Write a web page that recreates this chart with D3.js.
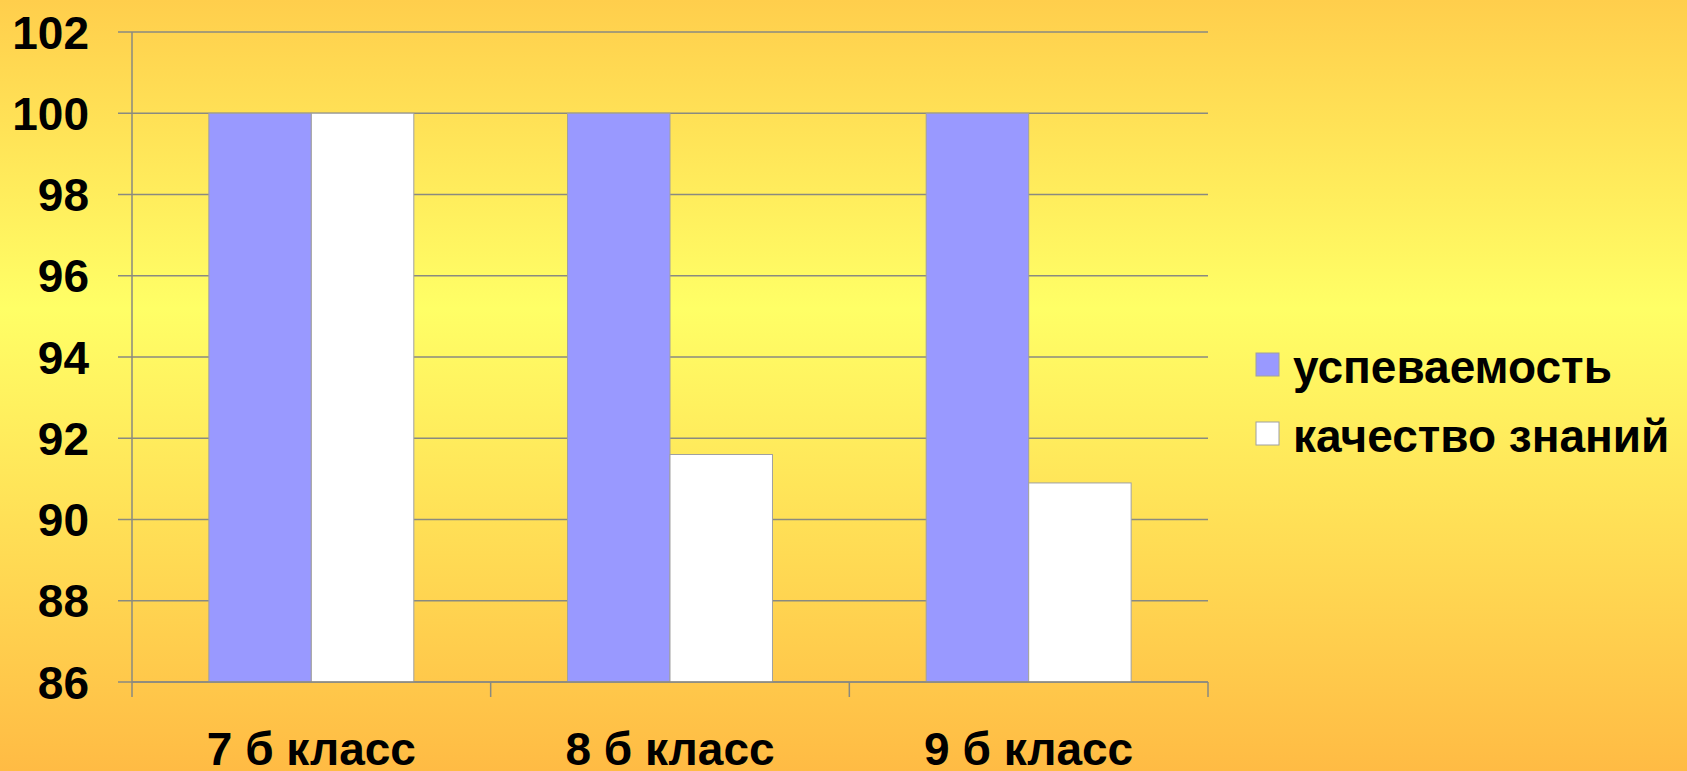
<!DOCTYPE html>
<html>
<head>
<meta charset="utf-8">
<script src="https://cdn.jsdelivr.net/npm/d3@7"></script>
<style>
  html, body { margin: 0; padding: 0; overflow: hidden; }
  svg { display: block; font-family: "Liberation Sans", Arial, sans-serif; }
</style>
</head>
<body>
<svg id="chart" width="1687" height="771"></svg>
<script>
// data
var classes = ["7 б класс", "8 б класс", "9 б класс"];
var seriesNames = ["успеваемость", "качество знаний"];
var uspevaemost = [100, 100, 100];
var kachestvo = [100, 91.6, 90.9];
var yTicks = [86, 88, 90, 92, 94, 96, 98, 100, 102];

var colors = ["#9999FF", "#FFFFFF"];
var W = 1687, H = 771;
var plotLeft = 132, plotRight = 1208, plotTop = 32, plotBottom = 682;

var svg = d3.select("#chart");

// background
var grad = svg.append("defs").append("linearGradient")
  .attr("id", "bg").attr("x1", 0).attr("x2", 0).attr("y1", 0).attr("y2", 1);
grad.append("stop").attr("offset", "0%").attr("stop-color", "#FFCE4C");
grad.append("stop").attr("offset", "40%").attr("stop-color", "#FFFF66");
grad.append("stop").attr("offset", "100%").attr("stop-color", "#FFBB44");
svg.append("rect").attr("width", W).attr("height", H).attr("fill", "url(#bg)");

var y = d3.scaleLinear().domain([86, 102]).range([plotBottom, plotTop]);
var x0 = d3.scaleBand().domain(classes).range([plotLeft, plotRight]).padding(0);
var x1 = d3.scaleBand().domain(seriesNames).range([0, x0.bandwidth()]).paddingInner(0).paddingOuter(0.75);

// gridlines
svg.append("g").selectAll("line").data(yTicks).enter().append("line")
  .attr("x1", plotLeft - 14).attr("x2", plotRight)
  .attr("y1", function(d){ return y(d); })
  .attr("y2", function(d){ return y(d); })
  .attr("stroke", "#8a8a80").attr("stroke-width", 1.5);

// y axis
svg.append("line").attr("x1", plotLeft).attr("x2", plotLeft).attr("y1", plotTop).attr("y2", plotBottom)
  .attr("stroke", "#8a8a80").attr("stroke-width", 1.5);

svg.append("g").selectAll("text").data(yTicks).enter().append("text")
  .attr("x", 89)
  .attr("y", function(d){ return y(d); })
  .attr("dy", "0.36em")
  .attr("text-anchor", "end")
  .attr("font-size", 46).attr("font-weight", "bold").attr("fill", "#000")
  .text(function(d){ return d; });

// bars
var rows = classes.map(function(c, i){
  return [{cls: c, s: seriesNames[0], v: uspevaemost[i]}, {cls: c, s: seriesNames[1], v: kachestvo[i]}];
});
svg.append("g").selectAll("g").data(rows).enter().append("g")
  .attr("transform", function(d){ return "translate(" + x0(d[0].cls) + ",0)"; })
  .selectAll("rect").data(function(d){ return d; }).enter().append("rect")
  .attr("x", function(d){ return x1(d.s); })
  .attr("width", x1.bandwidth())
  .attr("y", function(d){ return y(d.v); })
  .attr("height", function(d){ return plotBottom - y(d.v); })
  .attr("fill", function(d, i){ return colors[i]; })
  .attr("stroke", "#a0a0a0").attr("stroke-width", 1);

// x axis
svg.append("line").attr("x1", plotLeft).attr("x2", plotRight).attr("y1", plotBottom).attr("y2", plotBottom)
  .attr("stroke", "#8a8a80").attr("stroke-width", 1.5);
var xTicks = classes.map(function(c){ return x0(c); }).concat([plotRight]);
svg.append("g").selectAll("line").data(xTicks).enter().append("line")
  .attr("x1", function(d){ return d; }).attr("x2", function(d){ return d; })
  .attr("y1", plotBottom).attr("y2", plotBottom + 15)
  .attr("stroke", "#8a8a80").attr("stroke-width", 1.5);

svg.append("g").selectAll("text").data(classes).enter().append("text")
  .attr("x", function(d){ return x0(d) + x0.bandwidth() / 2; })
  .attr("y", 765)
  .attr("text-anchor", "middle")
  .attr("font-size", 46).attr("font-weight", "bold").attr("fill", "#000")
  .text(function(d){ return d; });

// legend
var lg = svg.append("g").selectAll("g").data(seriesNames).enter().append("g")
  .attr("transform", function(d, i){ return "translate(1256," + (353 + i * 69) + ")"; });
lg.append("rect").attr("width", 23).attr("height", 23)
  .attr("fill", function(d, i){ return colors[i]; })
  .attr("stroke", "#a0a0a0").attr("stroke-width", 1);
lg.append("text").attr("x", 37).attr("y", 30)
  .attr("font-size", 46).attr("font-weight", "bold").attr("fill", "#000")
  .text(function(d){ return d; });
</script>
</body>
</html>
